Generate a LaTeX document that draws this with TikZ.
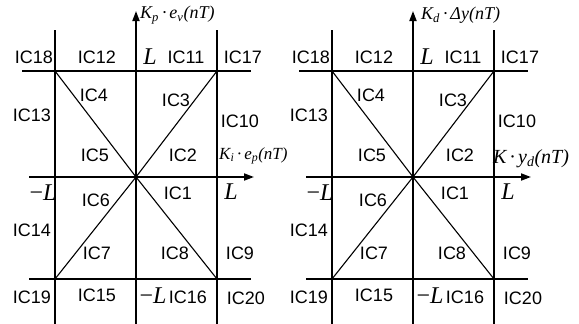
\documentclass[tikz,border=0pt]{standalone}
\usepackage{fontspec}
\setmainfont{Liberation Sans}
\newfontfamily\tms{Liberation Serif}
\usetikzlibrary{arrows.meta}
\newcommand\mypanel[1]{%
  \coordinate (#1c) at (136,177);
  \coordinate (#1tl) at (55,71);  \coordinate (#1tr) at (217,71);
  \coordinate (#1bl) at (55,279); \coordinate (#1br) at (217,279);
  \coordinate (#1lt) at (55,30);  \coordinate (#1lb) at (55,324);
  \coordinate (#1rt) at (217,30); \coordinate (#1rb) at (217,324);
  \coordinate (#1tw) at (22,71);  \coordinate (#1te) at (251,71);
  \coordinate (#1bw) at (29,279); \coordinate (#1be) at (251,279);
  \coordinate (#1aw) at (29,177); \coordinate (#1ae) at (254,177);
  \coordinate (#1as) at (136,324); \coordinate (#1an) at (136,11);
  \draw[ln] (#1lt) -- (#1lb);
  \draw[ln] (#1rt) -- (#1rb);
  \draw[ln] (#1tw) -- (#1te);
  \draw[ln] (#1bw) -- (#1be);
  \draw[ln] (#1tl) -- (#1c) -- (#1br);
  \draw[ln] (#1tr) -- (#1c) -- (#1bl);
  \draw[ax] (#1aw) -- (#1ae);
  \draw[ax] (#1as) -- (#1an);
  \node[ic] (#1i18) at (34,57) {IC18};
  \node[ic] (#1i12) at (97,57) {IC12};
  \node[ic] (#1i11) at (186,57) {IC11};
  \node[ic] (#1i17) at (243,57) {IC17};
  \node[ic] (#1i4) at (94,95) {IC4};
  \node[ic] (#1i3) at (176,100) {IC3};
  \node[ic] (#1i13) at (32,115) {IC13};
  \node[ic] (#1i10) at (240,121) {IC10};
  \node[ic] (#1i5) at (95,155) {IC5};
  \node[ic] (#1i2) at (183,155) {IC2};
  \node[ic] (#1i6) at (96,200) {IC6};
  \node[ic] (#1i1) at (178,193) {IC1};
  \node[ic] (#1i14) at (32,230) {IC14};
  \node[ic] (#1i7) at (97,253) {IC7};
  \node[ic] (#1i8) at (175,253) {IC8};
  \node[ic] (#1i9) at (240,253) {IC9};
  \node[ic] (#1i19) at (32,297) {IC19};
  \node[ic] (#1i15) at (97,295) {IC15};
  \node[ic] (#1i16) at (188,297) {IC16};
  \node[ic] (#1i20) at (246,298) {IC20};
  \node[bigL] (#1Lt) at (150,57) {L};
  \node[bigL] (#1Lr) at (231,192) {L};
  \node[bigL] (#1Ll) at (43,193) {{\upshape−}L};
  \node[bigL] (#1Lb) at (153,296) {{\upshape−}L};
}
\begin{document}
\begin{tikzpicture}[x=1pt,y=-1pt,
  ln/.style={line width=1.1pt},
  ax/.style={line width=1.8pt,-{Triangle[length=10pt,width=7pt]}},
  ic/.style={font=\fontsize{18}{18}\selectfont, inner sep=0pt},
  bigL/.style={font=\tms\itshape\fontsize{24}{24}\selectfont, inner sep=0pt},
  axl/.style={font=\tms\itshape\fontsize{18}{18}\selectfont, inner sep=0pt, anchor=west}]
\useasboundingbox (0,0) rectangle (579,324);
\fill[white] (0,0) rectangle (579,324);
\begin{scope}
  \mypanel{a}
  \node[axl] (ay) at (140,15) {K\textsubscript{p}\,·\,e\textsubscript{v}(nT)};
  \node[axl, font=\tms\itshape\fontsize{17}{17}\selectfont] (ax) at (219,156) {K\textsubscript{i}\,·\,e\textsubscript{p}(nT)};
\end{scope}
\begin{scope}[xshift=277pt]
  \mypanel{b}
  \node[axl] (by) at (144,15) {K\textsubscript{d}\,·\,Δy(nT)};
  \node[axl, font=\tms\itshape\fontsize{20}{20}\selectfont] (bx) at (216,159) {K\,·\,y\textsubscript{d}(nT)};
\end{scope}
\end{tikzpicture}
\end{document}
